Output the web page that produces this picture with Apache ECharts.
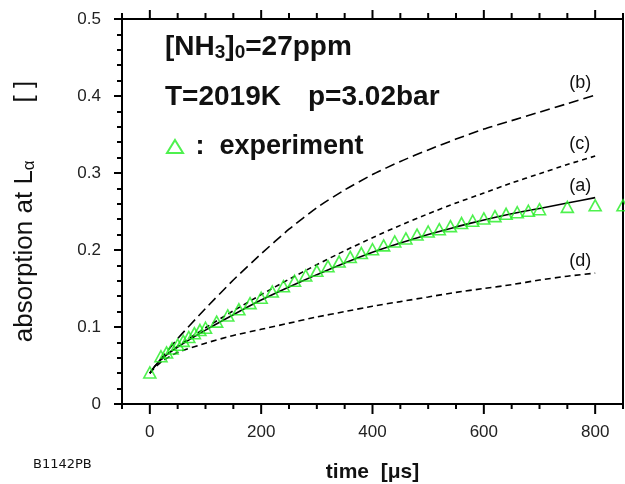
<!DOCTYPE html>
<html>
<head>
<meta charset="UTF-8">
<title>absorption at L-alpha</title>
<script src="https://cdn.jsdelivr.net/npm/echarts@6/dist/echarts.min.js"></script>
<style>
  html, body { margin: 0; padding: 0; background: #fff; }
  #chart { width: 625px; height: 484px; }
</style>
</head>
<body>
<div id="chart"></div>
<script>
// experiment (triangles)
var expT = [0, 20, 30, 40, 50, 60, 70, 80, 90, 100, 120, 140, 160, 180, 200, 220, 240, 260, 280, 300,
  320, 340, 360, 380, 400, 420, 440, 460, 480, 500, 520, 540, 560, 580, 600, 620, 640, 660, 680, 700,
  750, 800, 850];
var expAbs = [0.041, 0.062, 0.067, 0.072, 0.077, 0.082, 0.087, 0.092, 0.096, 0.099, 0.107, 0.115, 0.123, 0.131, 0.138, 0.146, 0.153, 0.160, 0.167, 0.173,
  0.179, 0.185, 0.191, 0.196, 0.201, 0.206, 0.211, 0.215, 0.220, 0.224, 0.227, 0.231, 0.235, 0.238, 0.241, 0.244, 0.247, 0.249, 0.251, 0.253,
  0.256, 0.258, 0.258];

// model curves (a)-(d)
var modelT = [0, 10, 25, 50, 100, 150, 200, 250, 300, 350, 400, 450, 500, 550, 600, 650, 700, 750, 800];
var curveA = [0.040, 0.050, 0.061, 0.074, 0.096, 0.116, 0.135, 0.152, 0.168, 0.183, 0.197, 0.209, 0.220, 0.230, 0.239, 0.247, 0.254, 0.261, 0.268];
var curveB = [0.040, 0.050, 0.063, 0.085, 0.124, 0.161, 0.195, 0.227, 0.255, 0.278, 0.298, 0.315, 0.330, 0.344, 0.357, 0.368, 0.379, 0.390, 0.401];
var curveC = [0.040, 0.050, 0.061, 0.075, 0.099, 0.121, 0.142, 0.162, 0.181, 0.199, 0.216, 0.232, 0.247, 0.261, 0.274, 0.287, 0.299, 0.311, 0.322];
var curveD = [0.040, 0.048, 0.057, 0.067, 0.079, 0.089, 0.097, 0.105, 0.113, 0.120, 0.127, 0.133, 0.139, 0.145, 0.150, 0.155, 0.161, 0.166, 0.170];

// x ticks: labelled ones and all tick marks (bottom + mirrored on top)
var xMajorTicks = [0, 200, 400, 600, 800];
var xTickValues = [-50, 0, 50, 100, 150, 200, 250, 300, 350, 400, 450, 500, 550, 600, 650, 700, 750, 800, 850];

var FONT = '"Liberation Sans", Arial, Helvetica, sans-serif';
var GREEN = '#22ee22';

function pairs(xs, ys) {
  return xs.map(function (x, i) { return [x, ys[i]]; });
}

function modelLine(name, ys, dash) {
  return {
    name: name,
    type: 'line',
    data: pairs(modelT, ys),
    symbol: 'none',
    smooth: 0.2,
    lineStyle: { color: '#000', width: 1.6, type: dash },
    endLabel: {
      show: true,
      formatter: name,
      offset: [-34, -12],
      fontSize: 18,
      fontFamily: FONT,
      color: '#111'
    },
    z: 2
  };
}

var textGraphics = [
  {
    type: 'text', left: 165, top: 33,
    style: {
      text: '{m|[NH}{s|3}{m|]}{s|0}{m|=27ppm}',
      fill: '#111',
      font: 'bold 28px ' + FONT,
      rich: {
        m: { fontSize: 28, fontWeight: 'bold', fontFamily: FONT, lineHeight: 31 },
        s: { fontSize: 19, fontWeight: 'bold', fontFamily: FONT, lineHeight: 14, verticalAlign: 'bottom' }
      }
    }
  },
  { type: 'text', left: 165, top: 83, style: { text: 'T=2019K', fill: '#111', font: 'bold 28px ' + FONT } },
  { type: 'text', left: 308, top: 83, style: { text: 'p=3.02bar', fill: '#111', font: 'bold 28px ' + FONT } },
  { type: 'text', left: 33, top: 458, style: { text: 'B1142PB', fill: '#111', font: '13px "DejaVu Sans", sans-serif' } }
];

var chart = echarts.init(document.getElementById('chart'));
chart.setOption({
  backgroundColor: '#fff',
  animation: false,
  grid: {
    left: 122, right: 2, top: 19, bottom: 80,
    outerBoundsMode: 'none',
    show: true, borderColor: '#000', borderWidth: 2
  },
  legend: {
    left: 161,
    top: 128,
    itemWidth: 16,
    itemHeight: 13,
    data: [' :  experiment'],
    itemStyle: { color: 'transparent', borderColor: GREEN, borderWidth: 2 },
    textStyle: { fontSize: 27, fontWeight: 'bold', fontFamily: FONT, color: '#111' }
  },
  xAxis: {
    type: 'value',
    min: -50,
    max: 850,
    axisLine: { show: true, onZero: false, lineStyle: { color: '#000', width: 2 } },
    axisTick: { show: false },
    splitLine: { show: false },
    axisLabel: {
      show: true, customValues: xMajorTicks, margin: 20,
      fontSize: 17, fontFamily: FONT, color: '#222'
    },
    name: 'time  [\u03bcs]',
    nameLocation: 'middle',
    nameGap: 58,
    nameTextStyle: { fontSize: 21, fontWeight: 'bold', fontFamily: FONT, color: '#111' }
  },
  yAxis: {
    type: 'value',
    min: 0,
    max: 0.5,
    interval: 0.1,
    axisLine: { show: true, onZero: false, lineStyle: { color: '#000', width: 2 } },
    axisTick: { show: true, length: 8, lineStyle: { color: '#000', width: 2 } },
    minorTick: { show: true, splitNumber: 5, length: 5, lineStyle: { color: '#000', width: 2 } },
    splitLine: { show: false },
    axisLabel: { margin: 21, fontSize: 17, fontFamily: FONT, color: '#222' },
    name: 'absorption at L{sub|\u03b1}        [ ]',
    nameLocation: 'middle',
    nameRotate: 90,
    nameGap: 84,
    nameTextStyle: {
      fontSize: 26, fontFamily: FONT, color: '#111',
      rich: { sub: { fontSize: 17, fontFamily: FONT, color: '#111', verticalAlign: 'bottom', lineHeight: 12 } }
    }
  },
  graphic: textGraphics,
  series: [
    modelLine('(a)', curveA, 'solid'),
    modelLine('(b)', curveB, [10, 5]),
    modelLine('(c)', curveC, [5, 4]),
    modelLine('(d)', curveD, [6, 4]),
    {
      name: ' :  experiment',
      type: 'scatter',
      data: pairs(expT, expAbs),
      symbol: 'triangle',
      symbolSize: [12, 11],
      itemStyle: { color: 'transparent', borderColor: GREEN, borderWidth: 1.6 },
      z: 3
    }
  ]
});

// x tick marks, placed through the axis scale: down from the bottom axis, up from the top frame
var yBottom = chart.convertToPixel({ yAxisIndex: 0 }, 0);
var yTop = chart.convertToPixel({ yAxisIndex: 0 }, 0.5);
var tickGraphics = [];
xTickValues.forEach(function (v) {
  var px = chart.convertToPixel({ xAxisIndex: 0 }, v);
  var major = xMajorTicks.indexOf(v) >= 0;
  tickGraphics.push({
    type: 'line', z: 50, silent: true,
    shape: { x1: px, y1: yBottom, x2: px, y2: yBottom + (major ? 10 : 5) },
    style: { stroke: '#000', lineWidth: 2 }
  });
  tickGraphics.push({
    type: 'line', z: 50, silent: true,
    shape: { x1: px, y1: yTop, x2: px, y2: yTop - (major ? 9 : 6) },
    style: { stroke: '#000', lineWidth: 2 }
  });
});
chart.setOption({ graphic: textGraphics.concat(tickGraphics) });
</script>
</body>
</html>
